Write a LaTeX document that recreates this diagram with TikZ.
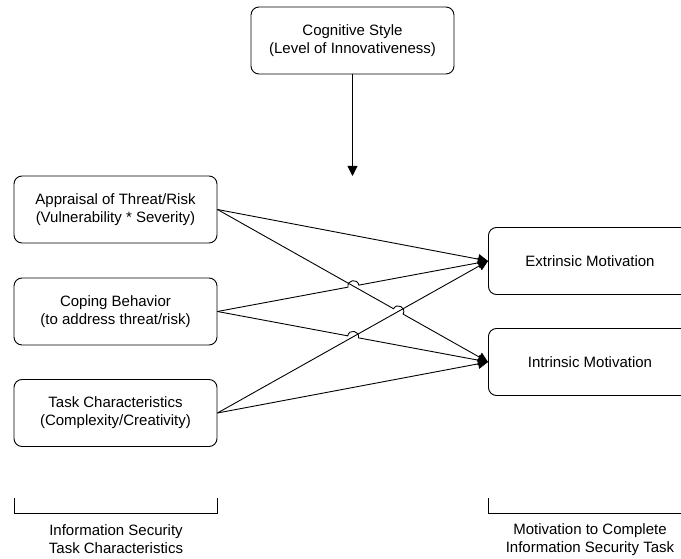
\documentclass[tikz,border=0pt]{standalone}
\usepackage{fontspec}
\setmainfont{Liberation Sans}
\usetikzlibrary{calc,arrows.meta}
\newcommand\jumpline[3]{%
  \draw[arr] (#1) -- ($(#2)!5.5pt!(#1)$)
    .. controls ($(#2)!5.5pt!(#1)!7.33pt!90:(#2)$) and ($(#2)!5.5pt!(#3)!7.33pt!-90:(#2)$)
    .. ($(#2)!5.5pt!(#3)$) -- (#3);}
\begin{document}
\begin{tikzpicture}[x=1pt,y=-1pt,
  box/.style={draw, line width=0.9pt, rounded corners=8pt, minimum width=203pt,
    minimum height=67pt, align=center, inner sep=0pt, font=\fontsize{15}{18}\selectfont},
  conn/.style={line width=0.9pt},
  arr/.style={conn,-{Triangle[length=10pt,width=10pt]}},
  lbl/.style={align=center, font=\fontsize{15}{18}\selectfont}]
\useasboundingbox (0,0) rectangle (681,559);
\node[box] (cog) at (352.5,40.5) {Cognitive Style\\(Level of Innovativeness)};
\node[box] (app) at (115.5,209.5) {Appraisal of Threat/Risk\\(Vulnerability * Severity)};
\node[box] (cop) at (115.5,311.5) {Coping Behavior\\(to address threat/risk)};
\node[box] (tsk) at (115.5,413) {Task Characteristics\\(Complexity/Creativity)};
\node[box] (ext) at (590,261) {Extrinsic Motivation};
\node[box] (int) at (590,362) {Intrinsic Motivation};
\coordinate (mod) at (352.5,176);
\draw[arr] (cog) -- (mod);
\coordinate (X1) at (intersection of app.east--int.west and cop.east--ext.west);
\coordinate (X2) at (intersection of app.east--int.west and tsk.east--ext.west);
\coordinate (X3) at (intersection of cop.east--int.west and tsk.east--ext.west);
\draw[arr] (app.east) -- (ext.west);
\jumpline{app.east}{X2}{int.west}
\jumpline{cop.east}{X1}{ext.west}
\jumpline{cop.east}{X3}{int.west}
\draw[arr] (tsk.east) -- (ext.west);
\draw[arr] (tsk.east) -- (int.west);
\draw[conn] (14,498) -- (14,513) -- (217,513) -- (217,498);
\draw[conn] (488,498) -- (488,513) -- (700,513);
\node[lbl] (lblL) at (116,539.5) {Information Security\\Task Characteristics};
\node[lbl] (lblR) at (590,539.5) {Motivation to Complete\\Information Security Task};
\end{tikzpicture}
\end{document}
